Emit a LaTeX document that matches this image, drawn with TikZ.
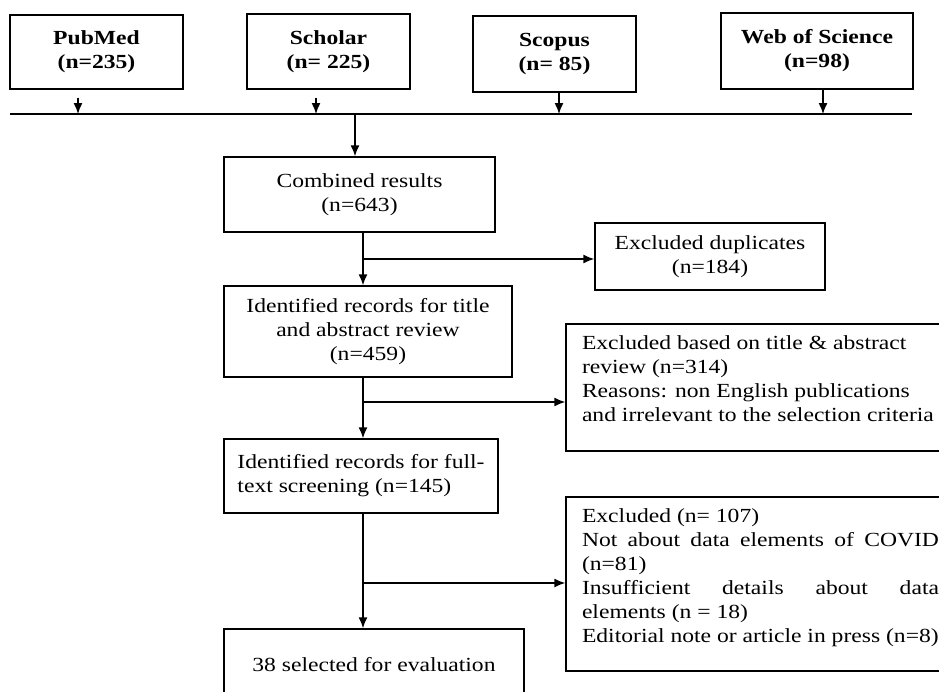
\documentclass[tikz,border=0pt]{standalone}
\usepackage{fontspec}
\setmainfont{Liberation Serif}[FakeStretch=1.18]
\usepackage{tikz}
\usetikzlibrary{arrows.meta}

\begin{document}
\begin{tikzpicture}[x=1pt,y=-1pt,line width=1.4pt,
  box/.style={draw,rectangle,inner sep=0pt,align=center,font=\fontsize{20}{24}\selectfont},
  src/.style={box,font=\fontsize{20}{24}\selectfont\bfseries},
  arr/.style={-{Latex[length=11pt,width=9pt]}}]
\newcommand{\exlist}[2]{\parbox[c][#1][t]{347pt}{\vspace*{12pt}#2}}
\pgfmathsetmacro{\xs}{363}
\clip (0,0) rectangle (939,691);
\node[src,minimum width=173pt,minimum height=74pt] (pubmed) at (96.5,52) {PubMed\\(n=235)};
\node[src,minimum width=163pt,minimum height=75pt] (scholar) at (328.5,51.5) {Scholar\\(n= 225)};
\node[src,minimum width=163pt,minimum height=76pt] (scopus) at (554.5,54) {Scopus\\(n= 85)};
\node[src,minimum width=192pt,minimum height=76pt] (wos) at (817,51) {Web of Science\\(n=98)};
\node[box,minimum width=271pt,minimum height=75pt] (comb) at (359.5,194.5) {Combined results\\(n=643)};
\node[box,minimum width=230pt,minimum height=67pt] (dup) at (710,256.5) {Excluded duplicates\\(n=184)};
\node[box,minimum width=288pt,minimum height=91pt] (title) at (368,331.5) {Identified records for title\\and abstract review\\(n=459)};
\node[box,minimum width=379pt] (extitle) at (755.5,387.5) {\exlist{127pt}{Excluded based on title \& abstract\\
  review (n=314)\\
  Reasons: non English publications\\
  \mbox{and irrelevant to the selection criteria}}};
\node[box,align=left,minimum width=274pt,minimum height=74pt] (full) at (361,476) {Identified records for full-\\text screening (n=145)};
\node[box,minimum width=379pt] (ex107) at (755.5,584) {\exlist{174pt}{\mbox{Excluded (n= 107)}\\
  \makebox[357pt][s]{Not about data elements of COVID}\\
  \mbox{(n=81)}\\
  \makebox[357pt][s]{Insufficient details about data}\\
  \mbox{elements (n = 18)}\\
  \mbox{Editorial note or article in press (n=8)}}};
\node[box,minimum width=300pt,minimum height=72pt] (final) at (374,665) {38 selected for evaluation};
\coordinate (busL) at (10,114);
\coordinate (busR) at (912,114);
\coordinate (in1) at (78,114);
\coordinate (in2) at (316,114);
\coordinate (in3) at (559,114);
\coordinate (in4) at (823,114);
\coordinate (drop) at (355,114);
\coordinate (spine) at (\xs,0);
\coordinate (br1) at (\xs,259);
\coordinate (br2) at (\xs,402);
\coordinate (br3) at (\xs,583);
\draw (busL) -- (busR);
\draw[arr,shorten <=8pt] (pubmed.south -| in1) -- (in1);
\draw[arr,shorten <=8pt] (scholar.south -| in2) -- (in2);
\draw[arr] (scopus.south -| in3) -- (in3);
\draw[arr] (wos.south -| in4) -- (in4);
\draw[arr] (drop) -- (drop |- comb.north);
\draw[arr] (comb.south -| spine) -- (title.north -| spine);
\draw[arr] (br1) -- (br1 -| dup.west);
\draw[arr] (title.south -| spine) -- (full.north -| spine);
\draw[arr] (br2) -- (br2 -| extitle.west);
\draw[arr] (full.south -| spine) -- (final.north -| spine);
\draw[arr] (br3) -- (br3 -| ex107.west);
\end{tikzpicture}
\end{document}
